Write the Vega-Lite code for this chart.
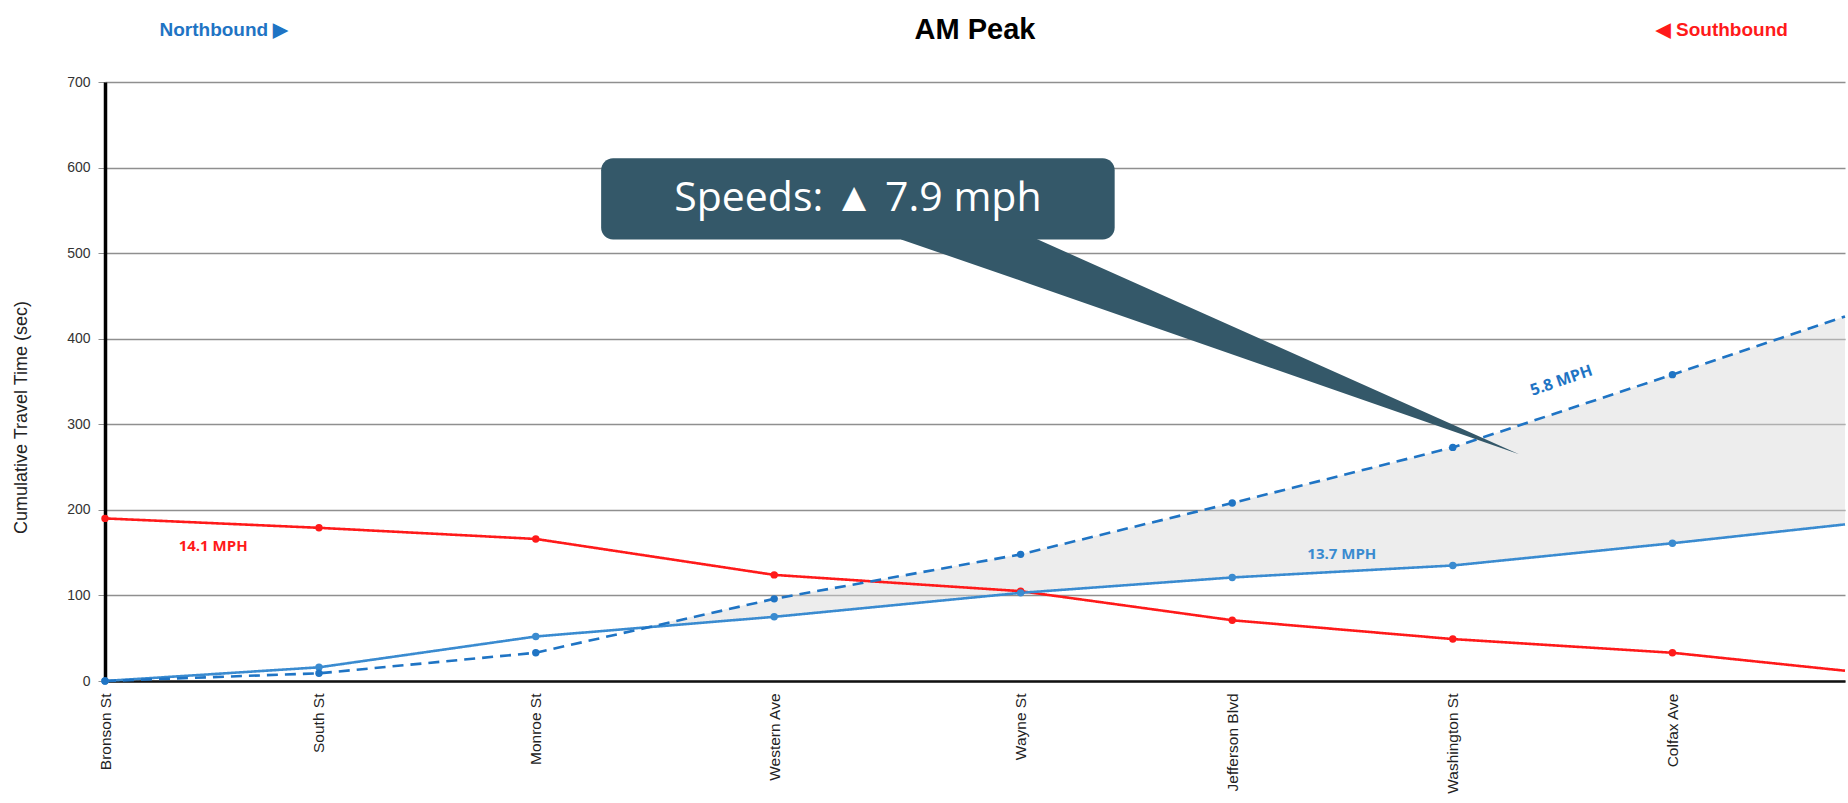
{
  "$schema": "https://vega.github.io/schema/vega-lite/v6.json",
  "width": 1740,
  "height": 599,
  "autosize": {"type": "none"},
  "padding": {"left": 105, "top": 82, "right": 3, "bottom": 122},
  "title": {"text": "AM Peak", "font": "Liberation Sans", "fontSize": 29, "fontWeight": "bold", "color": "#000000", "anchor": "middle", "frame": "group", "offset": -24},
  "config": {"view": {"stroke": null}, "font": "Liberation Sans"},
  "datasets": {
    "travel": [
      {"dist": 0, "street": "Bronson St", "series": "Southbound", "t": 190},
      {"dist": 455, "street": "South St", "series": "Southbound", "t": 179},
      {"dist": 916, "street": "Monroe St", "series": "Southbound", "t": 166},
      {"dist": 1423, "street": "Western Ave", "series": "Southbound", "t": 124},
      {"dist": 1947, "street": "Wayne St", "series": "Southbound", "t": 105},
      {"dist": 2397, "street": "Jefferson Blvd", "series": "Southbound", "t": 71},
      {"dist": 2866, "street": "Washington St", "series": "Southbound", "t": 49},
      {"dist": 3333, "street": "Colfax Ave", "series": "Southbound", "t": 33},
      {"dist": 3700, "street": "", "series": "Southbound", "t": 12},
      {"dist": 0, "street": "Bronson St", "series": "Northbound after", "t": 0},
      {"dist": 455, "street": "South St", "series": "Northbound after", "t": 16},
      {"dist": 916, "street": "Monroe St", "series": "Northbound after", "t": 52},
      {"dist": 1423, "street": "Western Ave", "series": "Northbound after", "t": 75},
      {"dist": 1947, "street": "Wayne St", "series": "Northbound after", "t": 103},
      {"dist": 2397, "street": "Jefferson Blvd", "series": "Northbound after", "t": 121},
      {"dist": 2866, "street": "Washington St", "series": "Northbound after", "t": 135},
      {"dist": 3333, "street": "Colfax Ave", "series": "Northbound after", "t": 161},
      {"dist": 3700, "street": "", "series": "Northbound after", "t": 183},
      {"dist": 0, "street": "Bronson St", "series": "Northbound before", "t": 0},
      {"dist": 455, "street": "South St", "series": "Northbound before", "t": 9},
      {"dist": 916, "street": "Monroe St", "series": "Northbound before", "t": 33},
      {"dist": 1423, "street": "Western Ave", "series": "Northbound before", "t": 96},
      {"dist": 1947, "street": "Wayne St", "series": "Northbound before", "t": 148},
      {"dist": 2397, "street": "Jefferson Blvd", "series": "Northbound before", "t": 208},
      {"dist": 2866, "street": "Washington St", "series": "Northbound before", "t": 273},
      {"dist": 3333, "street": "Colfax Ave", "series": "Northbound before", "t": 358},
      {"dist": 3700, "street": "", "series": "Northbound before", "t": 426}
    ],
    "shade": [
      {"dist": 1148, "before": 63, "after": 63},
      {"dist": 1423, "before": 96, "after": 75},
      {"dist": 1947, "before": 148, "after": 103},
      {"dist": 2397, "before": 208, "after": 121},
      {"dist": 2866, "before": 273, "after": 135},
      {"dist": 3333, "before": 358, "after": 161},
      {"dist": 3700, "before": 426, "after": 183}
    ],
    "notes": [
      {"dist": 230, "t": 158, "note": "14.1 MPH", "series": "Southbound"},
      {"dist": 2630, "t": 148, "note": "13.7 MPH", "series": "Northbound after"},
      {"dist": 3097, "t": 351, "note": "5.8 MPH", "series": "Northbound before"}
    ],
    "headers": [
      {"dist": 253, "t": 761, "label": "Northbound ▶", "series": "Northbound before"},
      {"dist": 3438, "t": 761, "label": "◀ Southbound", "series": "Southbound"}
    ],
    "callout": [
      {"dist": 1055, "dist2": 2147, "t": 611, "t2": 516, "text": "Speeds: ▲ 7.9 mph", "tm": 563, "dm": 1601}
    ],
    "pointer": [
      {"dist": 1693, "lo": 516, "hi": 520},
      {"dist": 1967, "lo": 464, "hi": 520},
      {"dist": 3007, "lo": 265, "hi": 265}
    ]
  },
  "layer": [
    {
      "data": {"name": "shade"},
      "mark": {"type": "area", "fill": "#d6d6d6", "opacity": 0.45},
      "encoding": {
        "x": {"field": "dist", "type": "quantitative", "scale": {"domain": [0, 3700], "nice": false, "zero": false},
          "axis": {"title": null, "grid": false, "ticks": false, "values": [0, 455, 916, 1423, 1947, 2397, 2866, 3333],
            "labelExpr": "['Bronson St','South St','Monroe St','Western Ave','Wayne St','Jefferson Blvd','Washington St','Colfax Ave'][indexof([0,455,916,1423,1947,2397,2866,3333], datum.value)]",
            "labelAngle": -90, "labelFontSize": 15.5, "labelColor": "#222222", "labelPadding": 12, "domainColor": "#111111", "domainWidth": 2.5, "labelFlush": false, "labelOverlap": false}},
        "y": {"field": "before", "type": "quantitative", "scale": {"domain": [0, 700], "nice": false},
          "axis": {"title": "Cumulative Travel Time (sec)", "titleFontSize": 18, "titleFontWeight": "normal", "titleColor": "#222222", "titlePadding": 36, "titleY": 335,
            "values": [0, 100, 200, 300, 400, 500, 600, 700], "grid": true, "gridColor": "#8f8f8f", "gridWidth": 1.6,
            "domainColor": "#000000", "domainWidth": 3.5, "tickColor": "#8f8f8f", "tickSize": 7, "labelFontSize": 14, "labelColor": "#333333", "labelPadding": 8}},
        "y2": {"field": "after"}
      }
    },
    {
      "data": {"name": "travel"},
      "mark": {"type": "line", "strokeWidth": 2.6},
      "encoding": {
        "x": {"field": "dist", "type": "quantitative"},
        "y": {"field": "t", "type": "quantitative"},
        "color": {"field": "series", "type": "nominal", "legend": null,
          "scale": {"domain": ["Southbound", "Northbound after", "Northbound before"], "range": ["#ff1a1a", "#3a8bd0", "#1f74c4"]}},
        "strokeDash": {"field": "series", "type": "nominal", "legend": null,
          "scale": {"domain": ["Southbound", "Northbound after", "Northbound before"], "range": [[1, 0], [1, 0], [11, 7]]}}
      }
    },
    {
      "data": {"name": "travel"},
      "transform": [{"filter": "datum.street != ''"}],
      "mark": {"type": "circle", "size": 55, "opacity": 1},
      "encoding": {
        "x": {"field": "dist", "type": "quantitative"},
        "y": {"field": "t", "type": "quantitative"},
        "color": {"field": "series", "type": "nominal", "legend": null}
      }
    },
    {
      "data": {"name": "notes"},
      "transform": [{"filter": "datum.series != 'Northbound before'"}],
      "mark": {"type": "text", "font": "Open Sans", "fontSize": 15, "fontWeight": "bold"},
      "encoding": {
        "x": {"field": "dist", "type": "quantitative"},
        "y": {"field": "t", "type": "quantitative"},
        "text": {"field": "note"},
        "color": {"field": "series", "type": "nominal", "legend": null}
      }
    },
    {
      "data": {"name": "notes"},
      "transform": [{"filter": "datum.series == 'Northbound before'"}],
      "mark": {"type": "text", "font": "Open Sans", "fontSize": 16, "fontWeight": "bold", "angle": 341},
      "encoding": {
        "x": {"field": "dist", "type": "quantitative"},
        "y": {"field": "t", "type": "quantitative"},
        "text": {"field": "note"},
        "color": {"field": "series", "type": "nominal", "legend": null}
      }
    },
    {
      "data": {"name": "pointer"},
      "mark": {"type": "area", "fill": "#345869"},
      "encoding": {
        "x": {"field": "dist", "type": "quantitative"},
        "y": {"field": "lo", "type": "quantitative"},
        "y2": {"field": "hi"}
      }
    },
    {
      "data": {"name": "callout"},
      "mark": {"type": "rect", "fill": "#345869", "cornerRadius": 12},
      "encoding": {
        "x": {"field": "dist", "type": "quantitative"},
        "x2": {"field": "dist2"},
        "y": {"field": "t", "type": "quantitative"},
        "y2": {"field": "t2"}
      }
    },
    {
      "data": {"name": "callout"},
      "mark": {"type": "text", "font": "Open Sans", "fontSize": 41, "color": "#ffffff", "baseline": "middle"},
      "encoding": {
        "x": {"field": "dm", "type": "quantitative"},
        "y": {"field": "tm", "type": "quantitative"},
        "text": {"field": "text"}
      }
    },
    {
      "data": {"name": "headers"},
      "mark": {"type": "text", "fontSize": 19, "fontWeight": "bold", "baseline": "middle"},
      "encoding": {
        "x": {"field": "dist", "type": "quantitative"},
        "y": {"field": "t", "type": "quantitative"},
        "text": {"field": "label"},
        "color": {"field": "series", "type": "nominal", "legend": null}
      }
    }
  ]
}
